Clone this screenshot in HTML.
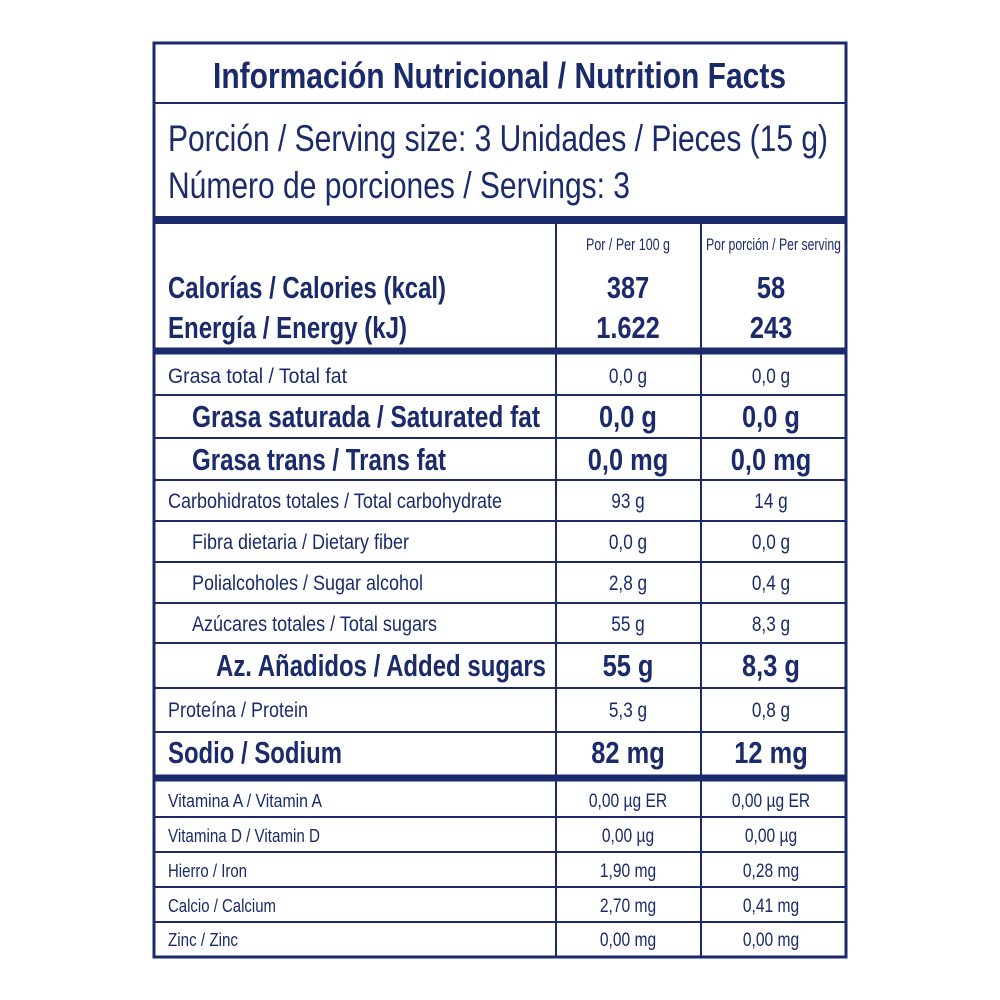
<!DOCTYPE html>
<html><head><meta charset="utf-8"><style>html,body{margin:0;padding:0;background:#fff}svg{display:block}</style></head>
<body>
<svg width="1000" height="1000" viewBox="0 0 1000 1000" xmlns="http://www.w3.org/2000/svg" font-family="Liberation Sans, sans-serif" fill="#1b2a6b">
<rect width="1000" height="1000" fill="#fff"/>
<g stroke="#1b2a6b" fill="none">
<rect x="154" y="43" width="692" height="914" stroke-width="3"/>
<line x1="154" y1="103" x2="846" y2="103" stroke-width="2"/>
<line x1="154" y1="220" x2="846" y2="220" stroke-width="8"/>
<line x1="154" y1="351" x2="846" y2="351" stroke-width="7"/>
<line x1="154" y1="778" x2="846" y2="778" stroke-width="7"/>
<line x1="556" y1="224" x2="556" y2="957" stroke-width="2"/>
<line x1="701" y1="224" x2="701" y2="957" stroke-width="2"/>
<g stroke-width="2">
<line x1="154" y1="395" x2="846" y2="395"/>
<line x1="154" y1="438" x2="846" y2="438"/>
<line x1="154" y1="480" x2="846" y2="480"/>
<line x1="154" y1="521" x2="846" y2="521"/>
<line x1="154" y1="562" x2="846" y2="562"/>
<line x1="154" y1="603" x2="846" y2="603"/>
<line x1="154" y1="643" x2="846" y2="643"/>
<line x1="154" y1="688" x2="846" y2="688"/>
<line x1="154" y1="732" x2="846" y2="732"/>
<line x1="154" y1="817" x2="846" y2="817"/>
<line x1="154" y1="852" x2="846" y2="852"/>
<line x1="154" y1="887" x2="846" y2="887"/>
<line x1="154" y1="922" x2="846" y2="922"/>
</g>
</g>
<text x="213" y="88" font-size="36" font-weight="bold" textLength="573" lengthAdjust="spacingAndGlyphs">Información Nutricional / Nutrition Facts</text>
<text x="168" y="151" font-size="37" textLength="660" lengthAdjust="spacingAndGlyphs">Porción / Serving size: 3 Unidades / Pieces (15 g)</text>
<text x="168" y="198" font-size="37" textLength="462" lengthAdjust="spacingAndGlyphs">Número de porciones / Servings: 3</text>
<text x="586" y="250" font-size="17" textLength="84" lengthAdjust="spacingAndGlyphs">Por / Per 100 g</text>
<text x="706" y="250" font-size="17" textLength="135" lengthAdjust="spacingAndGlyphs">Por porción / Per serving</text>
<g font-weight="bold" font-size="31">
<text x="168" y="298" textLength="278" lengthAdjust="spacingAndGlyphs">Calorías / Calories (kcal)</text>
<text x="168" y="338" textLength="239" lengthAdjust="spacingAndGlyphs">Energía / Energy (kJ)</text>
<text x="192" y="427" textLength="348" lengthAdjust="spacingAndGlyphs">Grasa saturada /  Saturated fat</text>
<text x="192" y="470" textLength="254" lengthAdjust="spacingAndGlyphs">Grasa trans / Trans fat</text>
<text x="216" y="676" textLength="330" lengthAdjust="spacingAndGlyphs">Az. Añadidos / Added sugars</text>
<text x="168" y="763" textLength="174" lengthAdjust="spacingAndGlyphs">Sodio / Sodium</text>
</g>
<g font-size="21">
<text x="168" y="383" textLength="179" lengthAdjust="spacingAndGlyphs">Grasa total / Total fat</text>
<text x="168" y="508" textLength="334" lengthAdjust="spacingAndGlyphs">Carbohidratos totales / Total carbohydrate</text>
<text x="192" y="549" textLength="217" lengthAdjust="spacingAndGlyphs">Fibra dietaria / Dietary fiber</text>
<text x="192" y="590" textLength="231" lengthAdjust="spacingAndGlyphs">Polialcoholes / Sugar alcohol</text>
<text x="192" y="631" textLength="245" lengthAdjust="spacingAndGlyphs">Azúcares totales / Total sugars</text>
<text x="168" y="717" textLength="140" lengthAdjust="spacingAndGlyphs">Proteína / Protein</text>
</g>
<g font-size="18">
<text x="168" y="807" textLength="154" lengthAdjust="spacingAndGlyphs">Vitamina A / Vitamin A</text>
<text x="168" y="842" textLength="152" lengthAdjust="spacingAndGlyphs">Vitamina D / Vitamin D</text>
<text x="168" y="877" textLength="79" lengthAdjust="spacingAndGlyphs">Hierro / Iron</text>
<text x="168" y="912" textLength="108" lengthAdjust="spacingAndGlyphs">Calcio / Calcium</text>
<text x="168" y="946" textLength="70" lengthAdjust="spacingAndGlyphs">Zinc / Zinc</text>
</g>
<g text-anchor="middle" font-weight="bold" font-size="31">
<text transform="translate(628,298) scale(0.82,1)">387</text>
<text transform="translate(771,298) scale(0.82,1)">58</text>
<text transform="translate(628,338) scale(0.82,1)">1.622</text>
<text transform="translate(771,338) scale(0.82,1)">243</text>
<text transform="translate(628,427) scale(0.82,1)">0,0 g</text>
<text transform="translate(771,427) scale(0.82,1)">0,0 g</text>
<text transform="translate(628,470) scale(0.82,1)">0,0 mg</text>
<text transform="translate(771,470) scale(0.82,1)">0,0 mg</text>
<text transform="translate(628,676) scale(0.82,1)">55 g</text>
<text transform="translate(771,676) scale(0.82,1)">8,3 g</text>
<text transform="translate(628,763) scale(0.82,1)">82 mg</text>
<text transform="translate(771,763) scale(0.82,1)">12 mg</text>
</g>
<g text-anchor="middle" font-size="21">
<text transform="translate(628,383) scale(0.82,1)">0,0 g</text>
<text transform="translate(771,383) scale(0.82,1)">0,0 g</text>
<text transform="translate(628,508) scale(0.82,1)">93 g</text>
<text transform="translate(771,508) scale(0.82,1)">14 g</text>
<text transform="translate(628,549) scale(0.82,1)">0,0 g</text>
<text transform="translate(771,549) scale(0.82,1)">0,0 g</text>
<text transform="translate(628,590) scale(0.82,1)">2,8 g</text>
<text transform="translate(771,590) scale(0.82,1)">0,4 g</text>
<text transform="translate(628,631) scale(0.82,1)">55 g</text>
<text transform="translate(771,631) scale(0.82,1)">8,3 g</text>
<text transform="translate(628,717) scale(0.82,1)">5,3 g</text>
<text transform="translate(771,717) scale(0.82,1)">0,8 g</text>
</g>
<g text-anchor="middle" font-size="19">
<text transform="translate(628,807) scale(0.82,1)">0,00 µg ER</text>
<text transform="translate(771,807) scale(0.82,1)">0,00 µg ER</text>
<text transform="translate(628,842) scale(0.82,1)">0,00 µg</text>
<text transform="translate(771,842) scale(0.82,1)">0,00 µg</text>
<text transform="translate(628,877) scale(0.82,1)">1,90 mg</text>
<text transform="translate(771,877) scale(0.82,1)">0,28 mg</text>
<text transform="translate(628,912) scale(0.82,1)">2,70 mg</text>
<text transform="translate(771,912) scale(0.82,1)">0,41 mg</text>
<text transform="translate(628,946) scale(0.82,1)">0,00 mg</text>
<text transform="translate(771,946) scale(0.82,1)">0,00 mg</text>
</g>
</svg>
</body></html>
